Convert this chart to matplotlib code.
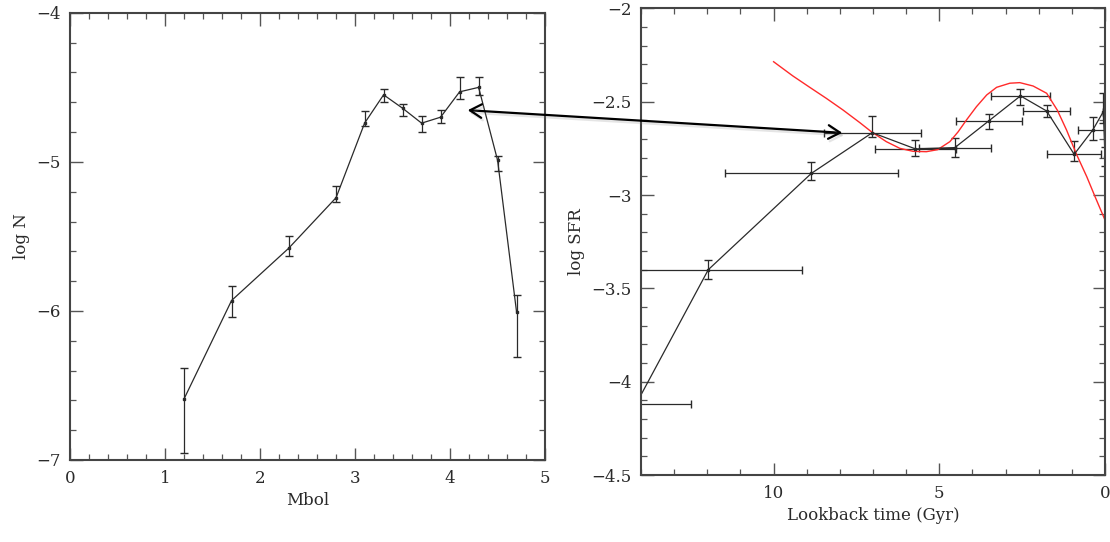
import numpy as np
import matplotlib.pyplot as plt
import matplotlib.patheffects as pe
from matplotlib.patches import FancyArrowPatch
from matplotlib.ticker import MultipleLocator, FuncFormatter

# luminosity function (left)
mbol = [1.2, 1.7, 2.3, 2.8, 3.1, 3.3, 3.5, 3.7, 3.9, 4.1, 4.3, 4.5, 4.7]
logn = [-6.59, -5.93, -5.58, -5.24, -4.74, -4.55, -4.64, -4.74, -4.70, -4.53, -4.50, -4.99, -6.01]
logn_lo = [0.36, 0.11, 0.05, 0.03, 0.02, 0.05, 0.05, 0.06, 0.04, 0.05, 0.05, 0.07, 0.30]
logn_hi = [0.21, 0.10, 0.08, 0.08, 0.08, 0.04, 0.03, 0.05, 0.05, 0.10, 0.07, 0.03, 0.12]

# star formation history (right)
age = [14.15, 11.97, 8.86, 7.02, 5.72, 4.53, 3.50, 2.55, 1.76, 0.93, 0.37, 0.05, 0.0]
age_err = [1.66, 2.83, 2.60, 1.47, 1.23, 1.08, 0.99, 0.88, 0.71, 0.82, 0.44, 0.0, 0.0]
sfr = [-4.12, -3.40, -2.884, -2.666, -2.753, -2.746, -2.602, -2.469, -2.55, -2.782, -2.652, -2.553, -2.795]
sfr_lo = [0.0, 0.05, 0.035, 0.025, 0.04, 0.05, 0.045, 0.05, 0.03, 0.035, 0.055, 0.06, 0.05]
sfr_hi = [0.0, 0.05, 0.06, 0.09, 0.05, 0.05, 0.035, 0.035, 0.03, 0.07, 0.07, 0.10, 0.05]

# red model curve
model_age = [10.0, 9.42, 8.91, 8.41, 7.91, 7.40, 7.05, 6.60, 6.19, 5.79, 5.39, 5.05, 4.68,
             4.43, 4.18, 3.88, 3.57, 3.27, 2.87, 2.57, 2.17, 1.76, 1.44, 1.16, 0.86, 0.55,
             0.30, 0.0]
model_sfr = [-2.286, -2.362, -2.423, -2.482, -2.544, -2.612, -2.661, -2.714, -2.750, -2.766,
             -2.768, -2.757, -2.714, -2.661, -2.598, -2.527, -2.464, -2.423, -2.401, -2.398,
             -2.416, -2.455, -2.545, -2.652, -2.782, -2.902, -3.009, -3.134]

plt.rcParams['font.family'] = 'DejaVu Serif'
ink = '#2a2a2a'

fig = plt.figure(figsize=(11.1, 5.42), dpi=100)
ax1 = fig.add_axes([0.0631, 0.1513, 0.428, 0.825])
ax2 = fig.add_axes([0.5775, 0.1236, 0.418, 0.861])

ax1.errorbar(mbol, logn, yerr=[logn_lo, logn_hi], fmt='-', color=ink, lw=0.9,
             elinewidth=0.9, capsize=3, marker='s', ms=2)
ax1.set_xlim(0, 5)
ax1.set_ylim(-7, -4)
ax1.xaxis.set_major_locator(MultipleLocator(1))
ax1.xaxis.set_minor_locator(MultipleLocator(0.2))
ax1.yaxis.set_major_locator(MultipleLocator(1))
ax1.yaxis.set_minor_locator(MultipleLocator(0.2))
ax1.set_xlabel('Mbol', fontsize=12, color=ink)
ax1.set_ylabel('log N', fontsize=12, color=ink)

ax2.errorbar(age, sfr, yerr=[sfr_lo, sfr_hi], xerr=age_err, fmt='-', color=ink, lw=0.9,
             elinewidth=0.9, capsize=3, marker='s', ms=2)
ax2.plot(model_age, model_sfr, color='#ff2a2a', lw=1.0, clip_on=False)
ax2.set_xlim(14, 0)
ax2.set_ylim(-4.5, -2)
ax2.xaxis.set_major_locator(MultipleLocator(5))
ax2.xaxis.set_minor_locator(MultipleLocator(1))
ax2.yaxis.set_major_locator(MultipleLocator(0.5))
ax2.yaxis.set_minor_locator(MultipleLocator(0.1))
ax2.yaxis.set_major_formatter(FuncFormatter(lambda v, p: ('%g' % v).replace('-', '\u2212')))
ax2.set_xlabel('Lookback time (Gyr)', fontsize=12, color=ink)
ax2.set_ylabel('log SFR', fontsize=12, color=ink)

for ax in (ax1, ax2):
    for s in ax.spines.values():
        s.set_linewidth(1.5)
        s.set_color('#444444')
    ax.tick_params(which='both', direction='in', top=True, right=True,
                   labelsize=12, labelcolor=ink, color='#555555')
    ax.tick_params(which='major', length=9, width=1.0, pad=7)
    ax.tick_params(which='minor', length=4.5, width=0.9)

# double arrow linking the two panels
arrow = FancyArrowPatch((0.4189, 0.797), (0.7613, 0.7546), transform=fig.transFigure,
                        arrowstyle='<->,head_length=0.6,head_width=0.35',
                        mutation_scale=14, lw=1.6, color='black')
arrow.set_path_effects([pe.SimpleLineShadow(offset=(1.2, -1.8), shadow_color='gray', alpha=0.2),
                        pe.Normal()])
fig.add_artist(arrow)

fig.savefig('out.png', dpi=100)
